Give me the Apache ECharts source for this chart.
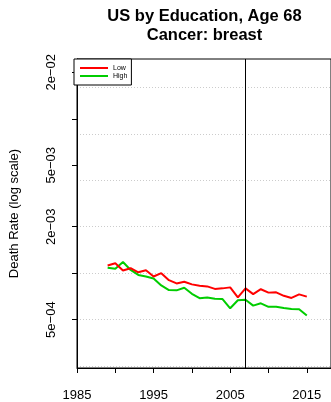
<!DOCTYPE html>
<html>
<head>
<meta charset="utf-8">
<script src="https://cdn.jsdelivr.net/npm/echarts@6/dist/echarts.min.js"></script>
<style>
  html, body { margin: 0; padding: 0; background: #fff; }
  #chart { width: 331px; height: 402px; }
</style>
</head>
<body>
<div id="chart"></div>
<script>
// Breast cancer death rates at age 68, US, by education level (log scale)
const years = [1989, 1990, 1991, 1992, 1993, 1994, 1995, 1996, 1997, 1998, 1999, 2000, 2001, 2002,
               2003, 2004, 2005, 2006, 2007, 2008, 2009, 2010, 2011, 2012, 2013, 2014, 2015];
const lowEducation = [0.001121, 0.001160, 0.001041, 0.001077, 0.001013, 0.001044, 0.000952, 0.001000,
                      0.000901, 0.000858, 0.000880, 0.000846, 0.000829, 0.000821, 0.000791, 0.000797,
                      0.000809, 0.000697, 0.000797, 0.000732, 0.000787, 0.000748, 0.000751, 0.000713,
                      0.000691, 0.000729, 0.000705];
const highEducation = [0.001083, 0.001067, 0.001181, 0.001049, 0.000974, 0.000952, 0.000924, 0.000833,
                       0.000777, 0.000774, 0.000805, 0.000735, 0.000689, 0.000695, 0.000682, 0.000680,
                       0.000592, 0.000667, 0.000672, 0.000616, 0.000638, 0.000605, 0.000605, 0.000594,
                       0.000586, 0.000584, 0.000532];
const seriesNames = ['Low', 'High'];
const markerYear = 2007;

// Axis ticks and labels
const xLabelYears = [1985, 1995, 2005, 2015];
const yTickValues = [0.0005, 0.001, 0.002, 0.005, 0.01, 0.02];
const yLabelValues = [0.0005, 0.002, 0.005, 0.02];
const yLabelTexts = ['5e\u221204', '2e\u221203', '5e\u221203', '2e\u221202'];
const yGridValues = [0.00025, 0.0005, 0.001, 0.002, 0.004, 0.008, 0.016];

const FONT = '"Liberation Sans", Arial, Helvetica, sans-serif';
const Y_MIN = 0.000243, Y_MAX = 0.0244;

function pairs(xs, ys) { return xs.map((x, i) => [x, ys[i]]); }

function yLabel(v) {
  let best = -1, bestD = Infinity;
  yLabelValues.forEach((t, i) => {
    const d = Math.abs(Math.log(v / t));
    if (d < bestD) { bestD = d; best = i; }
  });
  return bestD < 0.01 ? yLabelTexts[best] : '';
}

const chart = echarts.init(document.getElementById('chart'), null, { renderer: 'canvas' });
chart.setOption({
  animation: false,
  backgroundColor: '#fff',
  title: {
    text: 'US by Education, Age 68\nCancer: breast',
    left: 204.5,
    top: 7,
    textAlign: 'center',
    padding: 0,
    textStyle: { fontFamily: FONT, fontWeight: 'bold', fontSize: 16.5, lineHeight: 19, color: '#000' }
  },
  legend: {
    data: seriesNames,
    orient: 'vertical',
    left: 74,
    top: 59,
    padding: [5, 4, 5, 6],
    itemGap: 0,
    itemWidth: 28,
    itemHeight: 2,
    icon: 'rect',
    borderColor: '#000',
    borderWidth: 1,
    borderRadius: 0,
    backgroundColor: '#fff',
    textStyle: { fontFamily: FONT, fontSize: 7, lineHeight: 8, color: '#000', padding: 0 }
  },
  grid: {
    left: 74, top: 59, width: 261, height: 311,
    show: true, borderColor: '#000', borderWidth: 1, backgroundColor: 'transparent',
    containLabel: false
  },
  xAxis: {
    type: 'value',
    min: 1985,
    max: 2018.16,
    interval: 5,
    axisLine: { show: true, lineStyle: { color: '#000', width: 1 } },
    axisTick: { show: true, length: 5, lineStyle: { color: '#000', width: 1 } },
    axisLabel: {
      fontFamily: FONT, fontSize: 13, color: '#000', margin: 21,
      showMaxLabel: false,
      formatter: v => (xLabelYears.indexOf(Math.round(v)) >= 0 && Math.abs(v - Math.round(v)) < 1e-6) ? String(Math.round(v)) : ''
    },
    splitLine: { show: false }
  },
  yAxis: [
    {
      // grid-line axis
      type: 'log',
      logBase: 10,
      min: Y_MIN,
      max: Y_MAX,
      axisLine: { show: false },
      axisTick: { show: false, customValues: yGridValues },
      axisLabel: { show: false },
      splitLine: { show: true, lineStyle: { color: '#cccccc', type: [1, 2], width: 1 } }
    },
    {
      type: 'log',
      logBase: 10,
      min: Y_MIN,
      max: Y_MAX,
      position: 'left',
      name: 'Death Rate (log scale)',
      nameLocation: 'middle',
      nameGap: 56,
      nameTextStyle: { fontFamily: FONT, fontSize: 13, color: '#000' },
      axisLine: { show: true, lineStyle: { color: '#000', width: 1 } },
      axisTick: { show: true, length: 5, customValues: yTickValues, lineStyle: { color: '#000', width: 1 } },
      axisLabel: {
        show: true, customValues: yLabelValues, rotate: 90, margin: 19,
        fontFamily: FONT, fontSize: 13, color: '#000',
        formatter: v => yLabel(v)
      },
      splitLine: { show: false }
    }
  ],
  series: [
    {
      name: seriesNames[0],
      type: 'line',
      yAxisIndex: 0,
      data: pairs(years, lowEducation),
      showSymbol: false,
      symbol: 'none',
      color: '#ff0000',
      lineStyle: { color: '#ff0000', width: 2 },
      z: 3,
      markLine: {
        silent: true,
        symbol: ['none', 'none'],
        label: { show: false },
        lineStyle: { color: '#000', width: 1, type: 'solid' },
        data: [{ xAxis: markerYear }]
      }
    },
    {
      name: seriesNames[1],
      type: 'line',
      yAxisIndex: 0,
      data: pairs(years, highEducation),
      showSymbol: false,
      symbol: 'none',
      color: '#00cd00',
      lineStyle: { color: '#00cd00', width: 2 },
      z: 2
    }
  ]
});
</script>
</body>
</html>
